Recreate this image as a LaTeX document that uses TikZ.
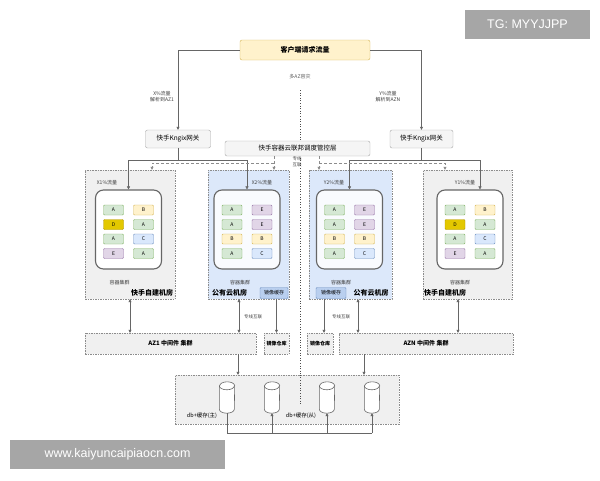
\documentclass[tikz,border=0pt]{standalone}
\usepackage{fontspec}
\setmainfont{Noto Sans CJK SC}
\newfontfamily\wmfont{Liberation Sans}
\usetikzlibrary{arrows.meta}

\definecolor{fillA}{HTML}{D5E8D4}\definecolor{lineA}{HTML}{82B366}
\definecolor{fillB}{HTML}{FFF2CC}\definecolor{lineB}{HTML}{D6B656}
\definecolor{fillC}{HTML}{DAE8FC}\definecolor{lineC}{HTML}{6C8EBF}
\definecolor{fillD}{HTML}{E3C800}\definecolor{lineD}{HTML}{B09500}
\definecolor{fillE}{HTML}{E1D5E7}\definecolor{lineE}{HTML}{9673A6}
\definecolor{cloudblue}{HTML}{DCE8FA}
\definecolor{cachefill}{HTML}{B9CFEF}

\tikzset{
  box/.style={draw=black!35, fill=black!4, rounded corners=2pt, inner sep=0pt,
    font=\fontsize{6.5}{7}\selectfont},
  azgray/.style={draw=black!45, dash pattern=on 1.5pt off 1pt, fill=black!6, inner sep=0pt},
  azblue/.style={azgray, fill=cloudblue},
  cluster/.style={draw=black!60, line width=1.1pt, rounded corners=8pt, fill=white,
    minimum width=66pt, minimum height=79pt, inner sep=0pt},
  pod/.style={draw, rounded corners=1pt, minimum width=20pt, minimum height=10pt,
    inner sep=0pt, font=\fontsize{5}{5}\selectfont},
  tag/.style={font=\fontsize{5}{6}\selectfont, text=black!75, align=center, inner sep=0.5pt},
  room/.style={font=\bfseries\fontsize{7}{7}\selectfont, inner sep=0.5pt},
  flow/.style={draw=black!60, line width=0.5pt, -{Triangle[length=3pt,width=3pt]}},
  ctlflow/.style={flow, draw=black!45, dash pattern=on 3pt off 2pt},
  both/.style={flow, {Triangle[length=3pt,width=3pt]}-{Triangle[length=3pt,width=3pt]}},
  cyl/.style={minimum width=15pt, minimum height=31pt, inner sep=0pt},
  cylline/.style={draw=black!60, fill=white, line width=0.6pt},
  wm/.style={fill=black!35, text=white, font=\wmfont\fontsize{12.5}{13}\selectfont, inner sep=0pt}
}

\begin{document}
\begin{tikzpicture}[x=1pt, y=-1pt]
\useasboundingbox (0,0) rectangle (600,480);

% top of the picture
\node[box, fill=fillB, draw=lineB, minimum width=130pt, minimum height=20pt,
  font=\bfseries\fontsize{7}{7}\selectfont] (client) at (305,50) {客户端请求流量};
\node[tag, text=black!65] (multiaz) at (300,77) {多AZ容灾};
\node[box, minimum width=65pt, minimum height=18pt] (gwl) at (178,139) {快手Kngix网关};
\node[box, minimum width=63pt, minimum height=18pt] (gwr) at (421.5,139) {快手Kngix网关};
\coordinate (drtop) at (300,90);
\coordinate (drbot) at (300,405);
\draw[black!70, dotted, line width=0.6pt] (drtop) -- (drbot);
\node[box, minimum width=145pt, minimum height=15pt] (ctl) at (297.5,148.5) {快手容器云联邦调度管控层};

\draw[flow] (client.west) -| (gwl.north);
\draw[flow] (client.east) -| (gwr.north);
\node[tag] at (162,97) {X\%流量\\解析到AZ1};
\node[tag] at (388,97) {Y\%流量\\解析到AZN};

% AZ rooms
\node[azgray, minimum width=90pt, minimum height=129pt] (az1) at (130,234.5) {};
\node[azblue, minimum width=81pt, minimum height=129pt] (az2) at (248.5,234.5) {};
\node[azblue, minimum width=83pt, minimum height=129pt] (az3) at (350.5,234.5) {};
\node[azgray, minimum width=89pt, minimum height=129pt] (az4) at (467.5,234.5) {};

\node[cluster] (cl1) at (128.5,229.5) {};
\node[cluster, fill=black!2!cloudblue!15] (cl2) at (247,229.5) {};
\node[cluster, fill=black!2!cloudblue!15] (cl3) at (349.5,229.5) {};
\node[cluster] (cl4) at (470,229.5) {};

\foreach \n/\cx/\pods in {1/128.5/{A,B,D,A,A,C,E,A}, 2/247/{A,E,A,E,B,B,A,C},
                          3/349.5/{A,E,A,E,B,B,A,C}, 4/470/{A,B,D,A,A,C,E,A}}
  \foreach \k [count=\i from 0] in \pods {
    \pgfmathsetmacro\px{\cx + mod(\i,2)*30 - 15}
    \pgfmathsetmacro\py{210 + int(\i/2)*14.5}
    \node[pod, fill=fill\k, draw=line\k] (pod\n-\i) at (\px,\py) {\k};
  }

\foreach \n/\dx in {1/-9, 2/-7, 3/-8.5, 4/-10}
  \node[tag, font=\fontsize{5}{5}\selectfont] at ([xshift=\dx pt, yshift=-13pt]cl\n.south) {容器集群};

\node[tag] at (107,183) {X1\%流量};
\node[tag] at (262,183) {X2\%流量};
\node[tag] at (334,183) {Y2\%流量};
\node[tag] at (465,183) {Y1\%流量};

\node[room] at (152,293) {快手自建机房};
\node[room] at (229.5,293) {公有云机房};
\node[room] at (371,293) {公有云机房};
\node[room] at (445,293) {快手自建机房};
\node[box, fill=cachefill, draw=lineC, rounded corners=1pt, minimum width=28pt, minimum height=11pt,
  font=\fontsize{5}{5}\selectfont] (mc1) at (274,293) {镜像缓存};
\node[box, fill=cachefill, draw=lineC, rounded corners=1pt, minimum width=30pt, minimum height=11pt,
  font=\fontsize{5}{5}\selectfont] (mc2) at (331,293) {镜像缓存};

% gateway and control flows
\coordinate (jl) at (178,160);
\coordinate (jr) at (421.5,160);
\draw[draw=black!60, line width=0.5pt] (gwl.south) -- (jl);
\draw[draw=black!60, line width=0.5pt] (gwr.south) -- (jr);
\draw[flow] (jl) -| (cl1.north);
\draw[flow] (jl) -| (cl2.north);
\draw[flow] (jr) -| (cl3.north);
\draw[flow] (jr) -| ([xshift=10pt]cl4.north);

\coordinate (cl) at (274,163);
\coordinate (cr) at (319,163);
\draw[ctlflow] (ctl.south -| cl) -- (cl |- az2.north);
\draw[ctlflow] (cl) -| ([xshift=22pt]az1.north);
\draw[ctlflow] (ctl.south -| cr) -- (cr |- az3.north);
\draw[ctlflow] (cr) -| ([xshift=-22.5pt]az4.north);
\node[tag, font=\fontsize{4.5}{6}\selectfont] at (297,162) {专线\\互联};

% middleware
\node[azgray, minimum width=171pt, minimum height=21pt, font=\bfseries\fontsize{6}{6}\selectfont]
  (mw1) at (170.5,343.5) {AZ1 中间件 集群};
\node[azgray, minimum width=25pt, minimum height=21pt, font=\bfseries\fontsize{5}{5}\selectfont]
  (repo1) at (276.5,343.5) {镜像仓库};
\node[azgray, minimum width=26pt, minimum height=21pt, font=\bfseries\fontsize{5}{5}\selectfont]
  (repo2) at (320,343.5) {镜像仓库};
\node[azgray, minimum width=174pt, minimum height=21pt, font=\bfseries\fontsize{6}{6}\selectfont]
  (mw2) at (426,343.5) {AZN 中间件 集群};

\draw[both] (az1.south) -- (az1.south |- mw1.north);
\draw[both] ([xshift=-9.5pt]az2.south) -- ([xshift=-9.5pt]az2.south |- mw1.north);
\draw[both] ([xshift=7.5pt]az3.south) -- ([xshift=7.5pt]az3.south |- mw2.north);
\draw[both] ([xshift=-9.5pt]az4.south) -- ([xshift=-9.5pt]az4.south |- mw2.north);
\draw[flow] (repo1.north |- mc1.south) -- (repo1.north);
\draw[flow] ([xshift=4pt]repo2.north |- mc2.south) -- ([xshift=4pt]repo2.north);
\node[tag, font=\fontsize{4.5}{5}\selectfont] at (253,317) {专线互联};
\node[tag, font=\fontsize{4.5}{5}\selectfont] at (341,317) {专线互联};

% db + cache
\node[azgray, minimum width=224pt, minimum height=49pt] (db) at (287,399.5) {};
\draw[black!70, dotted, line width=0.6pt] (db.north -| drbot) -- (drbot);
\draw[flow] ([xshift=67.5pt]mw1.south) -- ([xshift=67.5pt]mw1.south |- db.north);
\draw[flow] ([xshift=-62pt]mw2.south) -- ([xshift=-62pt]mw2.south |- db.north);

\foreach \n/\cx in {1/227, 2/272, 3/327, 4/372} {
  \node[cyl] (db\n) at (\cx,397.5) {};
  \draw[cylline] ([yshift=-4pt]db\n.north west) -- ([yshift=4pt]db\n.south west)
    arc[start angle=180, end angle=360, x radius=7.5pt, y radius=4pt]
    -- ([yshift=-4pt]db\n.north east)
    arc[start angle=0, end angle=180, x radius=7.5pt, y radius=4pt] -- cycle;
  \draw[cylline, fill=none] ([yshift=-4pt]db\n.north west)
    arc[start angle=180, end angle=360, x radius=7.5pt, y radius=4pt];
}
\node[tag, font=\fontsize{5.5}{6}\selectfont, text=black] at (202,416) {db+缓存(主)};
\node[tag, font=\fontsize{5.5}{6}\selectfont, text=black] at (301,416) {db+缓存(从)};

\coordinate (dbj) at (227,433);
\draw[draw=black!60, line width=0.5pt] (db1.south) -- (dbj) -- (db4.south |- dbj);
\foreach \n in {2,3,4}
  \draw[flow] (db\n.south |- dbj) -- (db\n.south);

% watermarks
\node[wm, minimum width=125pt, minimum height=29pt] (tg) at (527.5,24.5) {TG: MYYJJPP};
\node[wm, minimum width=215pt, minimum height=29pt] (site) at (117.5,454.5) {www.kaiyuncaipiaocn.com};
\end{tikzpicture}
\end{document}
